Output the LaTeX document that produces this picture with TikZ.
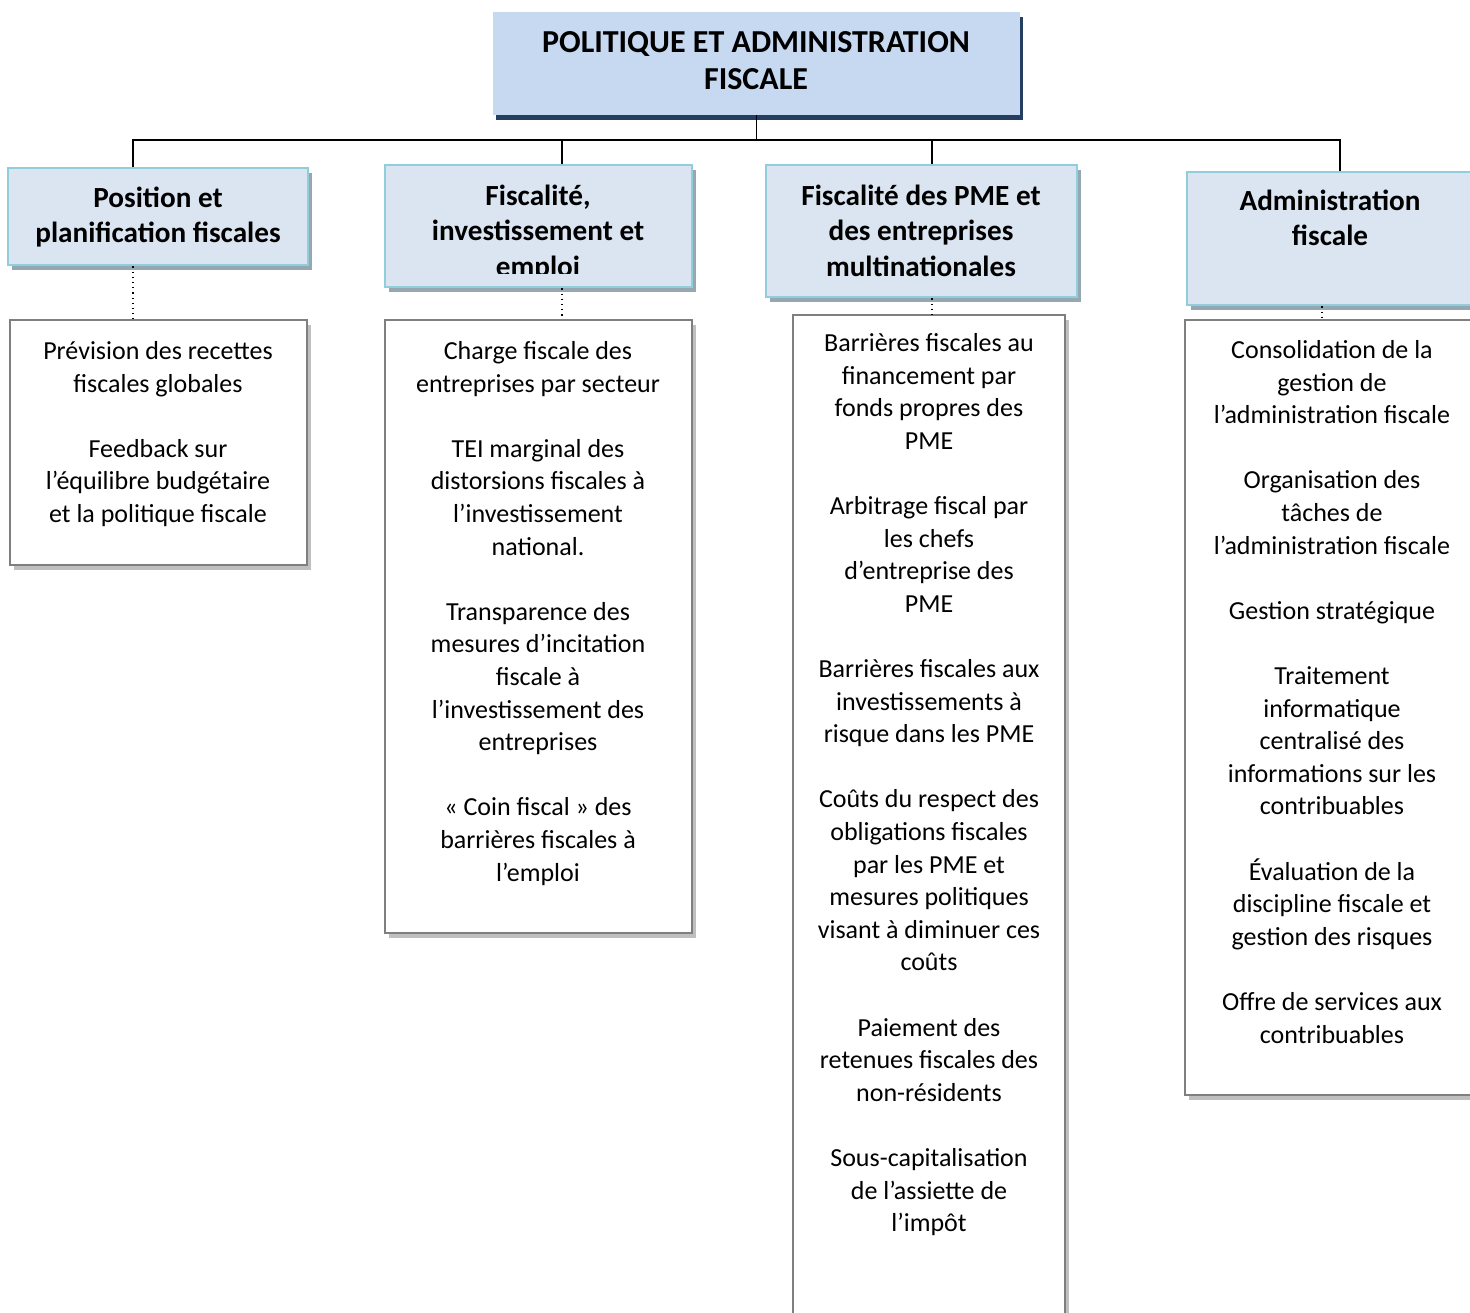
\documentclass[tikz,border=0pt]{standalone}
\usepackage{fontspec}
\setmainfont{Carlito}
\usetikzlibrary{fit,shadows}
\definecolor{titlefill}{HTML}{C6D9F1}
\definecolor{titleshadow}{HTML}{243F60}
\definecolor{headfill}{HTML}{DBE5F1}
\definecolor{headdraw}{HTML}{92CDDC}
\definecolor{headshadow}{HTML}{95A7B0}
\definecolor{bodydraw}{HTML}{7F7F7F}
\definecolor{bodyshadow}{HTML}{BFBFBF}
\begin{document}
\begin{tikzpicture}[x=0.5pt,y=-0.5pt,
  titlebox/.style={inner sep=0pt, fill=titlefill,
     general shadow={fill=titleshadow, shadow xshift=1.5pt, shadow yshift=-2.5pt}},
  headbox/.style={inner sep=0pt, fill=headfill, draw=headdraw, line width=1.3pt,
     general shadow={fill=headshadow, shadow xshift=2pt, shadow yshift=-2.5pt}},
  bodybox/.style={inner sep=0pt, fill=white, draw=bodydraw, line width=1pt,
     general shadow={fill=bodyshadow, shadow xshift=2pt, shadow yshift=-2.5pt}},
  titletext/.style={anchor=north, align=center, inner sep=0pt, font=\fontsize{16}{18.5}\selectfont\bfseries},
  headtext/.style={anchor=north, align=center, inner sep=0pt, font=\fontsize{14.6}{17.7}\selectfont\bfseries},
  bodytext/.style={anchor=north, align=center, inner sep=0pt, font=\fontsize{13}{16.3}\selectfont},
  conn/.style={line width=0.75pt},
  dotconn/.style={line width=0.6pt, dotted}]
\useasboundingbox (0,0) rectangle (1470,1312);
\clip (0,0) rectangle (1470,1312);

% title
\node[titlebox, fit={(493,12) (1020,115)}] (title) {};
\node[titletext] (ttitle) at (756,26.1) {\strut POLITIQUE ET ADMINISTRATION\\FISCALE};

% headers
\node[headbox, fit={(8,168) (308,265)}] (h1) {};
\node[headbox, fit={(385,165) (692,287)}] (h2) {};
\node[headbox, fit={(766,165) (1077,297)}] (h3) {};
\node[headbox, fit={(1187,172) (1490,305)}] (h4) {};

\node[headtext] (th1) at (158,182.2) {\strut Position et\\planification fiscales};
\begin{scope}
\clip (385,165) rectangle (692,273);
\node[headtext] (th2) at (538,180.2) {\strut Fiscalité,\\investissement et\\emploi};
\end{scope}
\node[headtext] (th3) at (921,180.2) {\strut Fiscalité des PME et\\des entreprises\\multinationales};
\node[headtext] (th4) at (1330,185.2) {\strut Administration\\fiscale};

% bodies
\node[bodybox, fit={(10,320) (307,565)}] (b1) {};
\node[bodybox, fit={(385,320) (692,933)}] (b2) {};
\node[bodybox, fit={(793,315) (1065,1340)}] (b3) {};
\node[bodybox, fit={(1185,320) (1490,1095)}] (b4) {};

\node[bodytext] (tb1) at (158,336.2) {\strut Prévision des recettes\\fiscales globales\\[16.3pt]Feedback sur\\l’équilibre budgétaire\\et la politique fiscale};
\node[bodytext] (tb2) at (538,336.2) {\strut Charge fiscale des\\entreprises par secteur\\[16.3pt]TEI marginal des\\distorsions fiscales à\\l’investissement\\national.\\[16.3pt]Transparence des\\mesures d’incitation\\fiscale à\\l’investissement des\\entreprises\\[16.3pt]« Coin fiscal » des\\barrières fiscales à\\l’emploi};
\node[bodytext] (tb3) at (929,328.2) {\strut Barrières fiscales au\\financement par\\fonds propres des\\PME\\[16.3pt]Arbitrage fiscal par\\les chefs\\d’entreprise des\\PME\\[16.3pt]Barrières fiscales aux\\investissements à\\risque dans les PME\\[16.3pt]Coûts du respect des\\obligations fiscales\\par les PME et\\mesures politiques\\visant à diminuer ces\\coûts\\[16.3pt]Paiement des\\retenues fiscales des\\non-résidents\\[16.3pt]Sous-capitalisation\\de l’assiette de\\l’impôt};
\node[bodytext] (tb4) at (1332,335.2) {\strut Consolidation de la\\gestion de\\l’administration fiscale\\[16.3pt]Organisation des\\tâches de\\l’administration fiscale\\[16.3pt]Gestion stratégique\\[16.3pt]Traitement\\informatique\\centralisé des\\informations sur les\\contribuables\\[16.3pt]Évaluation de la\\discipline fiscale et\\gestion des risques\\[16.3pt]Offre de services aux\\contribuables};

% connectors
\coordinate (busL) at (133,140);
\coordinate (busR) at (1340,140);
\coordinate (busM) at (title.south |- busL);
\draw[conn] (title.south) -- (busM);
\draw[conn] (h1.north -| busL) -- (busL) -- (busR) -- (h4.north -| busR);
\draw[conn] (h2.north -| 562,0) -- (562,140);
\draw[conn] (h3.north -| 932,0) -- (932,140);

\draw[dotconn] (h1.south -| 133,0) -- (b1.north -| 133,0);
\draw[dotconn] (h2.south -| 562,0) -- (b2.north -| 562,0);
\draw[dotconn] (h3.south -| 932,0) -- (b3.north -| 932,0);
\draw[dotconn] (h4.south -| 1322,0) -- (b4.north -| 1322,0);
\end{tikzpicture}
\end{document}
